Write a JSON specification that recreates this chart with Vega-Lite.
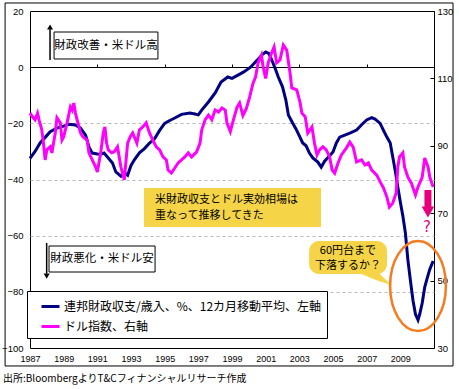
{
  "$schema": "https://vega.github.io/schema/vega-lite/v6.json",
  "width": 404,
  "height": 337,
  "autosize": {"type": "none"},
  "padding": {"left": 30, "top": 11, "right": 25, "bottom": 41},
  "background": "white",
  "title": {"text": "出所:BloombergよりT&Cフィナンシャルリサーチ作成", "orient": "bottom", "anchor": "start", "frame": "group", "dx": -27, "offset": 8, "fontSize": 10, "fontWeight": "normal", "font": "Noto Sans CJK JP", "color": "black"},
  "datasets": {
    "budget": [
      {"year": 1987.0, "value": -32.5}, {"year": 1987.3, "value": -30}, {"year": 1987.6, "value": -27}, {"year": 1987.9, "value": -25},
      {"year": 1988.2, "value": -23}, {"year": 1988.6, "value": -21.7}, {"year": 1989.0, "value": -21}, {"year": 1989.3, "value": -20.3},
      {"year": 1989.7, "value": -20.6}, {"year": 1990.0, "value": -21.7}, {"year": 1990.3, "value": -24.2}, {"year": 1990.5, "value": -28.4},
      {"year": 1990.7, "value": -30.6}, {"year": 1991.0, "value": -30.9}, {"year": 1991.2, "value": -31}, {"year": 1991.4, "value": -30.6},
      {"year": 1991.6, "value": -32}, {"year": 1991.9, "value": -34.1}, {"year": 1992.1, "value": -37.3}, {"year": 1992.4, "value": -38.8},
      {"year": 1992.6, "value": -37.5}, {"year": 1992.8, "value": -38.5}, {"year": 1993.0, "value": -35}, {"year": 1993.2, "value": -33},
      {"year": 1993.5, "value": -30.5}, {"year": 1993.8, "value": -29}, {"year": 1994.1, "value": -27}, {"year": 1994.4, "value": -25.5},
      {"year": 1994.7, "value": -22.5}, {"year": 1995.0, "value": -20}, {"year": 1995.3, "value": -19}, {"year": 1995.6, "value": -18.1},
      {"year": 1996.0, "value": -16.8}, {"year": 1996.5, "value": -16.3}, {"year": 1996.8, "value": -16.7}, {"year": 1997.0, "value": -17},
      {"year": 1997.2, "value": -15.3}, {"year": 1997.6, "value": -12.4}, {"year": 1998.0, "value": -9.2}, {"year": 1998.35, "value": -5.3},
      {"year": 1998.75, "value": -3.5}, {"year": 1999.0, "value": -4}, {"year": 1999.3, "value": -3}, {"year": 1999.7, "value": -1.7},
      {"year": 2000.1, "value": 0}, {"year": 2000.5, "value": 2.5}, {"year": 2000.8, "value": 4.5}, {"year": 2001.0, "value": 5.4},
      {"year": 2001.2, "value": 4.8}, {"year": 2001.4, "value": 2}, {"year": 2001.6, "value": -1}, {"year": 2001.75, "value": -3.5},
      {"year": 2002.0, "value": -7}, {"year": 2002.2, "value": -11.7}, {"year": 2002.35, "value": -17}, {"year": 2002.6, "value": -19.9},
      {"year": 2002.8, "value": -22}, {"year": 2003.0, "value": -24.5}, {"year": 2003.2, "value": -27}, {"year": 2003.4, "value": -28},
      {"year": 2003.6, "value": -30.6}, {"year": 2003.8, "value": -32.3}, {"year": 2004.1, "value": -33.8}, {"year": 2004.3, "value": -35.6},
      {"year": 2004.5, "value": -33.5}, {"year": 2004.8, "value": -31.5}, {"year": 2005.0, "value": -30.2}, {"year": 2005.2, "value": -27},
      {"year": 2005.4, "value": -24.9}, {"year": 2005.7, "value": -24.2}, {"year": 2006.0, "value": -23.5}, {"year": 2006.4, "value": -22.4},
      {"year": 2006.7, "value": -20.5}, {"year": 2007.0, "value": -18.8}, {"year": 2007.3, "value": -18}, {"year": 2007.5, "value": -18.5},
      {"year": 2007.8, "value": -20}, {"year": 2008.0, "value": -22.5}, {"year": 2008.2, "value": -24.9}, {"year": 2008.4, "value": -27},
      {"year": 2008.55, "value": -32}, {"year": 2008.7, "value": -37}, {"year": 2008.85, "value": -42.7}, {"year": 2009.0, "value": -48},
      {"year": 2009.15, "value": -53}, {"year": 2009.3, "value": -59}, {"year": 2009.45, "value": -68.7}, {"year": 2009.6, "value": -76},
      {"year": 2009.75, "value": -83}, {"year": 2009.9, "value": -88}, {"year": 2010.05, "value": -90}, {"year": 2010.15, "value": -88},
      {"year": 2010.3, "value": -84}, {"year": 2010.45, "value": -78.3}, {"year": 2010.6, "value": -75}, {"year": 2010.75, "value": -72},
      {"year": 2010.95, "value": -69}
    ],
    "dollar": [
      {"year": 1987.0, "value": 99.7}, {"year": 1987.15, "value": 98.6}, {"year": 1987.3, "value": 97.7}, {"year": 1987.45, "value": 99.7},
      {"year": 1987.55, "value": 97.5}, {"year": 1987.7, "value": 94.7}, {"year": 1987.8, "value": 90.8}, {"year": 1987.9, "value": 85.8},
      {"year": 1988.0, "value": 88.8}, {"year": 1988.2, "value": 89.7}, {"year": 1988.3, "value": 87.9}, {"year": 1988.5, "value": 93.8},
      {"year": 1988.6, "value": 98.3}, {"year": 1988.8, "value": 96.8}, {"year": 1988.9, "value": 91.7}, {"year": 1989.0, "value": 92.6},
      {"year": 1989.2, "value": 96.8}, {"year": 1989.4, "value": 101.5}, {"year": 1989.5, "value": 100.6}, {"year": 1989.6, "value": 102.7},
      {"year": 1989.7, "value": 99.7}, {"year": 1989.8, "value": 97.7}, {"year": 1990.0, "value": 93.8}, {"year": 1990.15, "value": 92.6},
      {"year": 1990.4, "value": 91.7}, {"year": 1990.5, "value": 87.9}, {"year": 1990.7, "value": 85.8}, {"year": 1990.9, "value": 83.7},
      {"year": 1991.0, "value": 82.2}, {"year": 1991.2, "value": 87.9}, {"year": 1991.35, "value": 93.8}, {"year": 1991.45, "value": 95.6},
      {"year": 1991.55, "value": 90.8}, {"year": 1991.65, "value": 88.8}, {"year": 1991.85, "value": 87.9}, {"year": 1992.0, "value": 88.2},
      {"year": 1992.2, "value": 89.7}, {"year": 1992.3, "value": 86.7}, {"year": 1992.4, "value": 83.7}, {"year": 1992.6, "value": 79.9},
      {"year": 1992.8, "value": 90.8}, {"year": 1992.95, "value": 92.6}, {"year": 1993.1, "value": 93.8}, {"year": 1993.35, "value": 90.8},
      {"year": 1993.5, "value": 94.7}, {"year": 1993.7, "value": 95.6}, {"year": 1993.9, "value": 96.8}, {"year": 1994.1, "value": 93.8},
      {"year": 1994.3, "value": 91.7}, {"year": 1994.5, "value": 89.7}, {"year": 1994.7, "value": 88.8}, {"year": 1994.9, "value": 86.7},
      {"year": 1995.1, "value": 85.8}, {"year": 1995.2, "value": 82.8}, {"year": 1995.4, "value": 81.9}, {"year": 1995.6, "value": 83.4},
      {"year": 1995.8, "value": 84.9}, {"year": 1996.0, "value": 85.8}, {"year": 1996.2, "value": 86.7}, {"year": 1996.4, "value": 87.9},
      {"year": 1996.6, "value": 86.7}, {"year": 1996.9, "value": 88.2}, {"year": 1997.1, "value": 90.8}, {"year": 1997.2, "value": 94.7},
      {"year": 1997.4, "value": 97.7}, {"year": 1997.6, "value": 99.1}, {"year": 1997.8, "value": 97.7}, {"year": 1998.0, "value": 100.6},
      {"year": 1998.2, "value": 100}, {"year": 1998.4, "value": 101.2}, {"year": 1998.6, "value": 100.6}, {"year": 1998.7, "value": 96.8},
      {"year": 1998.9, "value": 94.2}, {"year": 1999.1, "value": 98}, {"year": 1999.3, "value": 101.5}, {"year": 1999.45, "value": 102.7},
      {"year": 1999.65, "value": 99}, {"year": 1999.85, "value": 101}, {"year": 2000.05, "value": 104.5}, {"year": 2000.25, "value": 108.6},
      {"year": 2000.4, "value": 110.4}, {"year": 2000.55, "value": 114.6}, {"year": 2000.75, "value": 116.9}, {"year": 2000.85, "value": 113.4},
      {"year": 2001.0, "value": 110}, {"year": 2001.15, "value": 114.6}, {"year": 2001.35, "value": 117.5}, {"year": 2001.5, "value": 119.3},
      {"year": 2001.65, "value": 114.6}, {"year": 2001.85, "value": 115.5}, {"year": 2002.05, "value": 119.9}, {"year": 2002.25, "value": 118.4},
      {"year": 2002.45, "value": 111.6}, {"year": 2002.55, "value": 107.2}, {"year": 2002.85, "value": 106.6}, {"year": 2003.05, "value": 102.7},
      {"year": 2003.15, "value": 99.7}, {"year": 2003.35, "value": 98.6}, {"year": 2003.5, "value": 93.8}, {"year": 2003.75, "value": 95.6},
      {"year": 2003.9, "value": 90.8}, {"year": 2004.05, "value": 87.3}, {"year": 2004.2, "value": 88.8}, {"year": 2004.4, "value": 89.7},
      {"year": 2004.6, "value": 88.8}, {"year": 2004.8, "value": 86.7}, {"year": 2004.95, "value": 82.8}, {"year": 2005.1, "value": 81.9},
      {"year": 2005.3, "value": 84.9}, {"year": 2005.5, "value": 87.3}, {"year": 2005.8, "value": 89.4}, {"year": 2006.0, "value": 91.1},
      {"year": 2006.2, "value": 89.6}, {"year": 2006.4, "value": 85.2}, {"year": 2006.7, "value": 85.8}, {"year": 2006.9, "value": 84.3},
      {"year": 2007.1, "value": 84.9}, {"year": 2007.3, "value": 82.8}, {"year": 2007.6, "value": 81.3}, {"year": 2007.8, "value": 79.3},
      {"year": 2008.0, "value": 77.5}, {"year": 2008.2, "value": 74.8}, {"year": 2008.35, "value": 71.8}, {"year": 2008.55, "value": 73},
      {"year": 2008.75, "value": 76}, {"year": 2008.85, "value": 83.7}, {"year": 2008.95, "value": 86.7}, {"year": 2009.15, "value": 87.9},
      {"year": 2009.25, "value": 83.7}, {"year": 2009.45, "value": 80.7}, {"year": 2009.65, "value": 79}, {"year": 2009.9, "value": 75.4},
      {"year": 2010.05, "value": 77.8}, {"year": 2010.3, "value": 80.7}, {"year": 2010.45, "value": 86.4}, {"year": 2010.65, "value": 83.7},
      {"year": 2010.75, "value": 80.7}, {"year": 2010.95, "value": 77.8}
    ]
  },
  "layer": [
    {
      "layer": [
        {
          "data": {"name": "budget"},
          "mark": {"type": "line", "strokeWidth": 3},
          "encoding": {
            "x": {"field": "year", "type": "quantitative", "scale": {"domain": [1987, 2011], "nice": false, "zero": false},
              "axis": {"orient": "top", "offset": -56, "title": null, "values": [1987, 1989, 1991, 1993, 1995, 1997, 1999, 2001, 2003, 2005, 2007, 2009], "labels": false, "ticks": true, "tickSize": 3, "tickColor": "black", "domain": true, "domainColor": "black", "grid": false}},
            "y": {"field": "value", "type": "quantitative", "scale": {"domain": [-100, 20], "nice": false, "zero": false},
              "axis": {"orient": "left", "title": null, "values": [-100, -80, -60, -40, -20, 0, 20], "ticks": false, "domain": false, "labelPadding": 7, "grid": true, "gridDash": [3, 3], "gridColor": "#bbbbbb",
                "gridOpacity": {"condition": {"test": "datum.value === 0 || datum.value === 20 || datum.value === -100", "value": 0}, "value": 1}}},
            "color": {"datum": "連邦財政収支/歳入、%、12カ月移動平均、左軸", "type": "nominal",
              "scale": {"domain": ["連邦財政収支/歳入、%、12カ月移動平均、左軸", "ドル指数、右軸"], "range": ["#000080", "#FF00FF"]},
              "legend": {"orient": "none", "legendX": -3, "legendY": 280, "title": null, "direction": "vertical", "symbolType": "stroke", "symbolSize": 324, "symbolStrokeWidth": 3, "symbolOffset": 8, "labelFontSize": 12, "labelFont": "Noto Sans CJK JP", "labelColor": "black", "labelLimit": 500, "labelOffset": 3, "padding": 5, "rowPadding": 3, "fillColor": "white", "strokeColor": "black"}}
          }
        },
        {
          "data": {"values": [
            {"x1": 1985.52, "x2": 2012.13, "y1": 22.85, "y2": 22.85},
            {"x1": 1985.52, "x2": 2012.13, "y1": -106.4, "y2": -106.4},
            {"x1": 1985.52, "x2": 1985.52, "y1": 22.85, "y2": -106.4},
            {"x1": 2012.13, "x2": 2012.13, "y1": 22.85, "y2": -106.4}
          ]},
          "mark": {"type": "rule", "color": "black", "strokeWidth": 1, "clip": false},
          "encoding": {
            "x": {"field": "x1", "type": "quantitative", "title": null},
            "x2": {"field": "x2"},
            "y": {"field": "y1", "type": "quantitative", "title": null},
            "y2": {"field": "y2"}
          }
        },
        {
          "data": {"values": [{"x1": 1988.43, "x2": 1994.6, "y1": 12.52, "y2": 2.91}, {"x1": 1988.13, "x2": 1994.43, "y1": -63.68, "y2": -72.94}]},
          "mark": {"type": "rect", "fill": "white", "stroke": "black", "strokeWidth": 1},
          "encoding": {"x": {"field": "x1", "type": "quantitative", "title": null}, "x2": {"field": "x2"}, "y": {"field": "y1", "type": "quantitative", "title": null}, "y2": {"field": "y2"}}
        },
        {
          "data": {"values": [{"x1": 1993.77, "x2": 2004.29, "y1": -43.03, "y2": -56.91}]},
          "mark": {"type": "rect", "fill": "#F5D547"},
          "encoding": {"x": {"field": "x1", "type": "quantitative", "title": null}, "x2": {"field": "x2"}, "y": {"field": "y1", "type": "quantitative", "title": null}, "y2": {"field": "y2"}}
        },
        {
          "data": {"values": [{"x1": 2003.58, "x2": 2008.21, "y1": -61.9, "y2": -73.65}]},
          "mark": {"type": "rect", "fill": "#F5D547", "cornerRadius": 10},
          "encoding": {"x": {"field": "x1", "type": "quantitative", "title": null}, "x2": {"field": "x2"}, "y": {"field": "y1", "type": "quantitative", "title": null}, "y2": {"field": "y2"}}
        },
        {
          "data": {"values": [{"t": 2006.13, "top": -72.2, "bottom": -72.2}, {"t": 2007.55, "top": -72.2, "bottom": -75.8}, {"t": 2008.45, "top": -77.6, "bottom": -77.6}]},
          "mark": {"type": "area", "color": "#F5D547"},
          "encoding": {"x": {"field": "t", "type": "quantitative", "title": null}, "y": {"field": "top", "type": "quantitative", "title": null}, "y2": {"field": "bottom"}}
        },
        {
          "data": {"values": [{"t": 1991.51, "v": 7.54, "label": "財政改善・米ドル高"}, {"t": 1991.28, "v": -68.31, "label": "財政悪化・米ドル安"}]},
          "mark": {"type": "text", "fontSize": 11.5, "font": "Noto Sans CJK JP", "color": "black", "align": "center", "baseline": "middle"},
          "encoding": {"x": {"field": "t", "type": "quantitative", "title": null}, "y": {"field": "v", "type": "quantitative", "title": null}, "text": {"field": "label"}}
        },
        {
          "data": {"values": [{"t": 1994.43, "v": -47.3, "label": "米財政収支とドル実効相場は"}, {"t": 1994.43, "v": -52.85, "label": "重なって推移してきた"}]},
          "mark": {"type": "text", "fontSize": 11, "font": "Noto Sans CJK JP", "color": "black", "align": "left", "baseline": "middle"},
          "encoding": {"x": {"field": "t", "type": "quantitative", "title": null}, "y": {"field": "v", "type": "quantitative", "title": null}, "text": {"field": "label"}}
        },
        {
          "data": {"values": [{"t": 2005.89, "v": -65.36, "label": "60円台まで"}, {"t": 2005.89, "v": -70.8, "label": "下落するか？"}]},
          "mark": {"type": "text", "fontSize": 11, "font": "Noto Sans CJK JP", "color": "black", "align": "center", "baseline": "middle"},
          "encoding": {"x": {"field": "t", "type": "quantitative", "title": null}, "y": {"field": "v", "type": "quantitative", "title": null}, "text": {"field": "label"}}
        },
        {
          "data": {"values": [{"t": 1988.19, "v1": 2.55, "v2": 13.5}, {"t": 1987.99, "v1": -62.6, "v2": -73.5}]},
          "mark": {"type": "rule", "color": "black", "strokeWidth": 1.5},
          "encoding": {"x": {"field": "t", "type": "quantitative", "title": null}, "y": {"field": "v1", "type": "quantitative", "title": null}, "y2": {"field": "v2"}}
        },
        {
          "data": {"values": [{"t": 1988.19, "v": 14.3}]},
          "mark": {"type": "point", "shape": "triangle-up", "filled": true, "color": "black", "size": 36, "opacity": 1},
          "encoding": {"x": {"field": "t", "type": "quantitative", "title": null}, "y": {"field": "v", "type": "quantitative", "title": null}}
        },
        {
          "data": {"values": [{"t": 1987.99, "v": -74.4}]},
          "mark": {"type": "point", "shape": "triangle-down", "filled": true, "color": "black", "size": 36, "opacity": 1},
          "encoding": {"x": {"field": "t", "type": "quantitative", "title": null}, "y": {"field": "v", "type": "quantitative", "title": null}}
        },
        {
          "data": {"values": [{"t": 2010.64, "v1": -43.74, "v2": -49.8}]},
          "mark": {"type": "rule", "color": "#E6007E", "strokeWidth": 7},
          "encoding": {"x": {"field": "t", "type": "quantitative", "title": null}, "y": {"field": "v1", "type": "quantitative", "title": null}, "y2": {"field": "v2"}}
        },
        {
          "data": {"values": [{"t": 2010.64, "v": -51.6}]},
          "mark": {"type": "point", "shape": "triangle-down", "filled": true, "color": "#E6007E", "size": 160, "opacity": 1},
          "encoding": {"x": {"field": "t", "type": "quantitative", "title": null}, "y": {"field": "v", "type": "quantitative", "title": null}}
        },
        {
          "data": {"values": [{"t": 2010.59, "v": -56.9, "label": "?"}]},
          "mark": {"type": "text", "fontSize": 15, "font": "DejaVu Sans", "color": "#E6007E", "align": "center", "baseline": "middle"},
          "encoding": {"x": {"field": "t", "type": "quantitative", "title": null}, "y": {"field": "v", "type": "quantitative", "title": null}, "text": {"field": "label"}}
        },
        {
          "data": {"values": [{"t": 2010.05, "v": -77.92}]},
          "mark": {"type": "point", "shape": "M-0.62,0A0.62,1,0,1,0,0.62,0A0.62,1,0,1,0,-0.62,0Z", "filled": false, "stroke": "#F47B20", "strokeWidth": 2.5, "size": 8100, "opacity": 1},
          "encoding": {"x": {"field": "t", "type": "quantitative", "title": null}, "y": {"field": "v", "type": "quantitative", "title": null}}
        }
      ]
    },
    {
      "data": {"name": "dollar"},
      "mark": {"type": "line", "strokeWidth": 3},
      "encoding": {
        "x": {"field": "year", "type": "quantitative", "scale": {"domain": [1987, 2011], "nice": false, "zero": false},
          "axis": {"orient": "bottom", "title": null, "values": [1987, 1989, 1991, 1993, 1995, 1997, 1999, 2001, 2003, 2005, 2007, 2009], "format": "d", "ticks": false, "domain": false, "grid": false, "labelPadding": 6, "labelDx": -4, "labelOverlap": false, "labelFlush": false, "labelFontSize": 9}},
        "y": {"field": "value", "type": "quantitative", "scale": {"domain": [30, 130], "nice": false, "zero": false},
          "axis": {"orient": "right", "title": null, "values": [30, 50, 70, 90, 110, 130], "grid": false, "domain": false, "ticks": true, "tickSize": -4, "tickColor": "black", "labelPadding": 7}},
        "color": {"datum": "ドル指数、右軸", "type": "nominal"}
      }
    }
  ],
  "resolve": {"scale": {"y": "independent"}, "axis": {"x": "independent"}},
  "config": {
    "view": {"stroke": "black", "strokeWidth": 1},
    "axis": {"labelFont": "Liberation Sans Narrow, Liberation Sans", "labelFontSize": 9.5, "labelColor": "black"}
  }
}
